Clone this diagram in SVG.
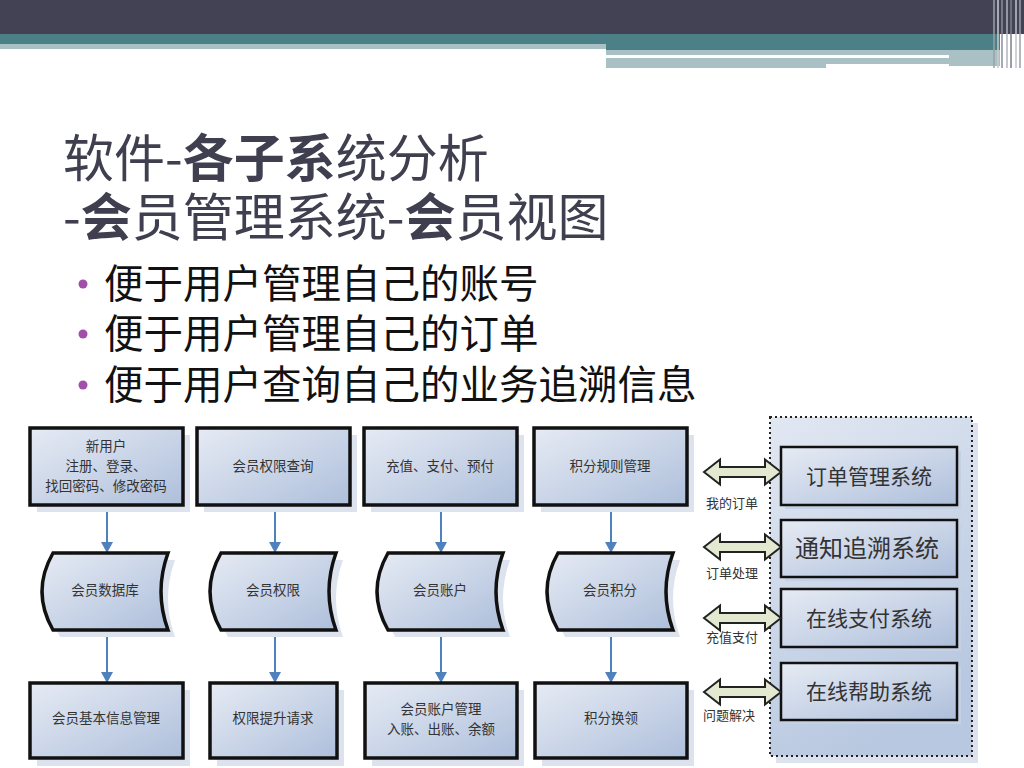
<svg xmlns="http://www.w3.org/2000/svg" width="1024" height="768" viewBox="0 0 1024 768">
<style>
.title{font-family:"Noto Sans CJK SC","Liberation Sans",sans-serif;font-size:51px;fill:#3f3f4f}
.b{font-weight:bold}
.bul{font-family:"Noto Sans CJK SC","Liberation Sans",sans-serif;font-size:39.5px;fill:#111}
.nt{font-family:"Noto Sans CJK SC","Liberation Sans",sans-serif;font-size:13.5px;fill:#333;text-anchor:middle}
.st{font-family:"Noto Sans CJK SC","Liberation Sans",sans-serif;font-size:21px;fill:#333;text-anchor:middle}
.lb{font-family:"Noto Sans CJK SC","Liberation Sans",sans-serif;font-size:13px;fill:#333}
.box{fill:url(#g1);stroke:#111;stroke-width:3.5}
.sbox{fill:url(#g1);stroke:#111;stroke-width:2.5}
.shd{fill:#dce3ee}
.arr{stroke:#4f81bd;stroke-width:2;fill:none;marker-end:url(#ah)}
.dbl{fill:#e3e8d0;stroke:#222;stroke-width:2}
</style>
<defs>
<linearGradient id="g1" x1="0" y1="0" x2="1" y2="1">
<stop offset="0" stop-color="#e6ebf4"/>
<stop offset="1" stop-color="#aebfdb"/>
</linearGradient>
<linearGradient id="g2" x1="0" y1="0" x2="0.4" y2="1">
<stop offset="0" stop-color="#e2e8f2"/>
<stop offset="1" stop-color="#b8c8e0"/>
</linearGradient>
<marker id="ah" markerWidth="12" markerHeight="12" refX="10" refY="6" orient="auto" markerUnits="userSpaceOnUse">
<path d="M0,0 L11,6 L0,12 Z" fill="#4f81bd"/>
</marker>
<path id="sd" d="M0,0 H115 Q101,38.5 115,77 H0 Q-22,38.5 0,0 Z"/>
<path id="sds" d="M0,0 H115 Q101,38.5 115,77 H0 Q-22,38.5 0,0 Z" fill="#dce3ee"/>
</defs>
<rect width="1024" height="768" fill="#fff"/>
<g id="header">
<rect x="0" y="0" width="1024" height="34" fill="#424254"/>
<rect x="0" y="34" width="1000" height="10" fill="#4a8086"/>
<rect x="0" y="44" width="606" height="5" fill="#a9c0c4"/>
<rect x="606" y="44" width="394" height="6" fill="#4a8086"/>
<rect x="606" y="50" width="394" height="5" fill="#a9c0c4"/>
<rect x="949" y="55" width="51" height="11" fill="#a9c0c4"/>
<rect x="606" y="58" width="220" height="10" fill="#a9c0c4"/>
<rect x="826" y="58" width="123" height="6" fill="#a9c0c4"/>
<g stroke-width="1.5">
<line x1="994" y1="0" x2="994" y2="68" stroke="#9aa0a8"/>
<line x1="998" y1="0" x2="998" y2="68" stroke="#c8ccd0"/>
<line x1="1002" y1="0" x2="1002" y2="68" stroke="#888e98"/>
<line x1="1007" y1="0" x2="1007" y2="68" stroke="#b0b4bc"/>
<line x1="1011" y1="0" x2="1011" y2="68" stroke="#7a808a"/>
<line x1="1016" y1="0" x2="1016" y2="68" stroke="#c0c4ca"/>
<line x1="1020" y1="0" x2="1020" y2="68" stroke="#9aa0a8"/>
</g>
</g>
<g id="title">
<text class="title" x="63" y="177">软件-<tspan class="b">各子系</tspan>统分析</text>
<text class="title" x="63" y="236">-<tspan class="b">会</tspan>员管理系统-<tspan class="b">会</tspan>员视图</text>
</g>
<g id="bullets">
<circle cx="83" cy="284" r="4.5" fill="#a050a8"/>
<text class="bul" x="104" y="298">便于用户管理自己的账号</text>
<circle cx="83" cy="334" r="4.5" fill="#a050a8"/>
<text class="bul" x="104" y="348">便于用户管理自己的订单</text>
<circle cx="83" cy="385" r="4.5" fill="#a050a8"/>
<text class="bul" x="104" y="399">便于用户查询自己的业务追溯信息</text>
</g>
<g id="connectors">
<line class="arr" x1="107" y1="505" x2="107" y2="552"/>
<line class="arr" x1="275" y1="505" x2="275" y2="552"/>
<line class="arr" x1="441" y1="505" x2="441" y2="552"/>
<line class="arr" x1="611" y1="505" x2="611" y2="552"/>
<line class="arr" x1="107" y1="630" x2="107" y2="682"/>
<line class="arr" x1="275" y1="630" x2="275" y2="682"/>
<line class="arr" x1="441" y1="630" x2="441" y2="682"/>
<line class="arr" x1="611" y1="630" x2="611" y2="682"/>
</g>
<g id="n-newuser">
<rect class="shd" x="37" y="435" width="153" height="77"/>
<rect class="box" x="30" y="428" width="153" height="77"/>
<text class="nt" x="106" y="451">新用户</text>
<text class="nt" x="106" y="471">注册、登录、</text>
<text class="nt" x="106" y="491">找回密码、修改密码</text>
</g>
<g id="n-permquery">
<rect class="shd" x="204" y="435" width="153" height="77"/>
<rect class="box" x="197" y="428" width="153" height="77"/>
<text class="nt" x="273" y="471">会员权限查询</text>
</g>
<g id="n-recharge">
<rect class="shd" x="371" y="435" width="153" height="77"/>
<rect class="box" x="364" y="428" width="153" height="77"/>
<text class="nt" x="440" y="471">充值、支付、预付</text>
</g>
<g id="n-pointrule">
<rect class="shd" x="541" y="435" width="153" height="77"/>
<rect class="box" x="534" y="428" width="153" height="77"/>
<text class="nt" x="610" y="471">积分规则管理</text>
</g>
<g id="n-memberdb">
<use href="#sds" x="60" y="560"/>
<use href="#sd" x="53" y="553" class="box"/>
<text class="nt" x="105" y="595">会员数据库</text>
</g>
<g id="n-memberperm">
<use href="#sds" x="228" y="560"/>
<use href="#sd" x="221" y="553" class="box"/>
<text class="nt" x="273" y="595">会员权限</text>
</g>
<g id="n-memberacct">
<use href="#sds" x="395" y="560"/>
<use href="#sd" x="388" y="553" class="box"/>
<text class="nt" x="440" y="595">会员账户</text>
</g>
<g id="n-memberpoints">
<use href="#sds" x="565" y="560"/>
<use href="#sd" x="558" y="553" class="box"/>
<text class="nt" x="610" y="595">会员积分</text>
</g>
<g id="n-basicinfo">
<rect class="shd" x="37" y="690" width="153" height="76"/>
<rect class="box" x="30" y="683" width="153" height="75"/>
<text class="nt" x="106" y="723">会员基本信息管理</text>
</g>
<g id="n-upgrade">
<rect class="shd" x="217" y="690" width="127" height="76"/>
<rect class="box" x="210" y="683" width="127" height="75"/>
<text class="nt" x="273" y="723">权限提升请求</text>
</g>
<g id="n-acctmgmt">
<rect class="shd" x="372" y="690" width="152" height="76"/>
<rect class="box" x="365" y="683" width="152" height="75"/>
<text class="nt" x="441" y="714">会员账户管理</text>
<text class="nt" x="441" y="734">入账、出账、余额</text>
</g>
<g id="n-redeem">
<rect class="shd" x="542" y="690" width="152" height="76"/>
<rect class="box" x="535" y="683" width="152" height="75"/>
<text class="nt" x="611" y="723">积分换领</text>
</g>
<g id="n-container">
<rect x="776" y="423" width="202" height="340" fill="#dce3ee"/>
<rect x="770" y="417" width="202" height="339" fill="url(#g2)" stroke="#222" stroke-width="2" stroke-dasharray="2,3"/>
</g>
<g id="n-order">
<rect x="785" y="451" width="176" height="58" fill="#c4d1e4"/>
<rect class="sbox" x="781" y="447" width="176" height="58"/>
<text class="st" x="869" y="484">订单管理系统</text>
</g>
<g id="n-notify">
<rect x="785" y="524" width="176" height="57" fill="#c4d1e4"/>
<rect class="sbox" x="781" y="520" width="176" height="57"/>
<text class="st" x="867" y="557" style="font-size:24px">通知追溯系统</text>
</g>
<g id="n-pay">
<rect x="785" y="593" width="176" height="58" fill="#c4d1e4"/>
<rect class="sbox" x="781" y="589" width="176" height="58"/>
<text class="st" x="869" y="626">在线支付系统</text>
</g>
<g id="n-help">
<rect x="785" y="667" width="176" height="57" fill="#c4d1e4"/>
<rect class="sbox" x="781" y="663" width="176" height="57"/>
<text class="st" x="869" y="699">在线帮助系统</text>
</g>
<g id="side-links">
<polygon class="dbl" points="704,472 720,459.5 720,467 765,467 765,459.5 781,472 765,484.5 765,477 720,477 720,484.5"/>
<polygon class="dbl" points="704,547 720,534.5 720,542 765,542 765,534.5 781,547 765,559.5 765,552 720,552 720,559.5"/>
<polygon class="dbl" points="704,618 720,605.5 720,613 765,613 765,605.5 781,618 765,630.5 765,623 720,623 720,630.5"/>
<polygon class="dbl" points="704,692 720,679.5 720,687 765,687 765,679.5 781,692 765,704.5 765,697 720,697 720,704.5"/>
<text class="lb" x="706" y="508">我的订单</text>
<text class="lb" x="706" y="578">订单处理</text>
<text class="lb" x="706" y="642">充值支付</text>
<text class="lb" x="703" y="720">问题解决</text>
</g>
</svg>
